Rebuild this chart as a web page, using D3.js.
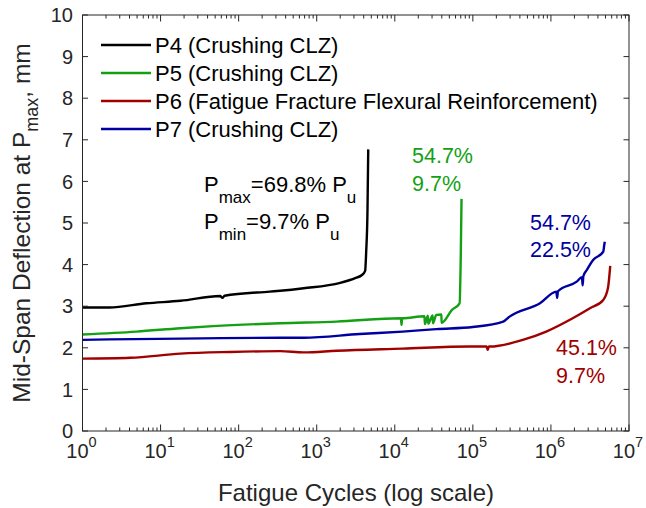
<!DOCTYPE html>
<html><head><meta charset="utf-8">
<script src="https://cdn.jsdelivr.net/npm/d3@7"></script>
<style>body{margin:0;background:#fff}svg{display:block}text{font-family:"Liberation Sans",Arial,sans-serif}</style>
</head><body>
<svg id="c" width="646" height="508"></svg>
<script>
// ---- data ----
const seriesNames = ["P4 (Crushing CLZ)", "P5 (Crushing CLZ)", "P6 (Fatigue Fracture Flexural Reinforcement)", "P7 (Crushing CLZ)"];
const seriesColors = ["#000000", "#14a014", "#a00000", "#0000a0"];
const p4Cycles = [1, 2.2, 6.6, 18, 58, 62, 66, 250, 340, 680, 2000, 3160, 3800, 4170, 4300, 4470, 4570];
const p4Defl   = [2.97, 2.97, 3.07, 3.13, 3.245, 3.20, 3.25, 3.35, 3.37, 3.43, 3.56, 3.68, 3.75, 3.85, 4.3, 5.3, 6.77];
const p5Cycles = [1, 4.9, 18, 47, 340, 1800, 12000, 12200, 12400, 12600, 24000, 24300, 26500, 26800, 30500, 30800, 34000, 39500, 39800, 54000, 67600, 70000, 71600];
const p5Defl   = [2.32, 2.39, 2.47, 2.52, 2.59, 2.63, 2.71, 2.55, 2.71, 2.71, 2.76, 2.57, 2.77, 2.58, 2.78, 2.59, 2.79, 2.80, 2.60, 2.91, 3.07, 4.2, 5.58];
const p6Cycles = [1, 4.1, 18, 78, 340, 680, 1800, 12600, 91000, 150000, 155000, 160000, 166000, 436000, 871000, 1900000, 3160000, 4680000, 5370000, 5750000];
const p6Defl   = [1.74, 1.76, 1.86, 1.90, 1.92, 1.89, 1.93, 1.98, 2.03, 2.03, 1.95, 2.03, 2.03, 2.19, 2.39, 2.71, 2.95, 3.15, 3.43, 3.97];
const p7Cycles = [1, 340, 680, 3550, 12600, 34000, 100000, 245000, 295000, 724000, 1175000, 1200000, 1230000, 2140000, 2500000, 2550000, 2600000, 2880000, 3470000, 4680000, 4800000, 4900000];
const p7Defl   = [2.19, 2.24, 2.24, 2.33, 2.39, 2.45, 2.50, 2.63, 2.75, 3.07, 3.35, 3.20, 3.36, 3.59, 3.70, 3.50, 3.72, 3.87, 4.11, 4.31, 4.45, 4.55];
const xTickExps = [0, 1, 2, 3, 4, 5, 6, 7];
const yTicks = [0, 1, 2, 3, 4, 5, 6, 7, 8, 9, 10];

// ---- chart ----
const svg = d3.select("#c");
const L = 82.5, R = 629, T = 15, B = 431;
const x = d3.scaleLog().domain([1, 1e7]).range([L, R]);
const y = d3.scaleLinear().domain([0, 10]).range([B, T]);
const axisCol = "#262626";

const series = [
  {c: p4Cycles, d: p4Defl}, {c: p5Cycles, d: p5Defl}, {c: p6Cycles, d: p6Defl}, {c: p7Cycles, d: p7Defl}
];
const line = d3.line().x(d => x(d[0])).y(d => y(d[1])).curve(d3.curveMonotoneX);
series.forEach((s, i) => {
  svg.append("path").datum(s.c.map((c, k) => [c, s.d[k]]))
    .attr("d", line).attr("fill", "none").attr("stroke", seriesColors[i])
    .attr("stroke-width", 2.4).attr("stroke-linejoin", "round");
});

// frame
svg.append("rect").attr("x", L).attr("y", T).attr("width", R - L).attr("height", B - T)
  .attr("fill", "none").attr("stroke", axisCol).attr("stroke-width", 1);

// x ticks (inward, top and bottom)
x.ticks().forEach(v => {
  const major = Math.abs(Math.log10(v) - Math.round(Math.log10(v))) < 1e-9;
  const len = major ? 6.5 : 3.5;
  const px = x(v);
  svg.append("line").attr("x1", px).attr("x2", px).attr("y1", B).attr("y2", B - len).attr("stroke", axisCol);
  svg.append("line").attr("x1", px).attr("x2", px).attr("y1", T).attr("y2", T + len).attr("stroke", axisCol);
});
xTickExps.forEach(e => {
  const t = svg.append("text").attr("x", x(Math.pow(10, e)) - 1).attr("y", 458)
    .attr("text-anchor", "middle").attr("fill", axisCol).attr("font-size", 20);
  t.append("tspan").text("10");
  t.append("tspan").attr("dy", -11).attr("font-size", 14.5).text(e);
});
// y ticks
yTicks.forEach(v => {
  const py = y(v);
  svg.append("line").attr("x1", L).attr("x2", L + 5.5).attr("y1", py).attr("y2", py).attr("stroke", axisCol);
  svg.append("line").attr("x1", R).attr("x2", R - 5.5).attr("y1", py).attr("y2", py).attr("stroke", axisCol);
  svg.append("text").attr("x", 73).attr("y", py + 7.2).attr("text-anchor", "end")
    .attr("fill", axisCol).attr("font-size", 20).text(v);
});

// axis labels
svg.append("text").attr("x", 356).attr("y", 501).attr("text-anchor", "middle")
  .attr("fill", axisCol).attr("font-size", 24).text("Fatigue Cycles (log scale)");
const yl = svg.append("text").attr("transform", "translate(30,223) rotate(-90)")
  .attr("text-anchor", "middle").attr("fill", axisCol).attr("font-size", 24.5);
yl.append("tspan").text("Mid-Span Deflection at P");
yl.append("tspan").attr("dy", 8).attr("font-size", 18).text("max");
yl.append("tspan").attr("dy", -8).text(", mm");

// legend
const legY = [45, 73, 101, 129];
seriesNames.forEach((n, i) => {
  svg.append("line").attr("x1", 101).attr("x2", 151).attr("y1", legY[i]).attr("y2", legY[i])
    .attr("stroke", seriesColors[i]).attr("stroke-width", 2.4);
  svg.append("text").attr("x", 155).attr("y", legY[i] + 8).attr("fill", "#000")
    .attr("font-size", 22).text(n);
});

// annotations
function subText(xp, yp, parts, col) {
  const t = svg.append("text").attr("x", xp).attr("y", yp).attr("fill", col).attr("font-size", 22);
  parts.forEach(p => {
    const ts = t.append("tspan").text(p.t);
    if (p.sub) ts.attr("dy", 11).attr("font-size", 17);
    if (p.back) ts.attr("dy", -11);
  });
}
subText(204, 192, [{t: "P"}, {t: "max", sub: true}, {t: "=69.8% P", back: true}, {t: "u", sub: true}], "#000");
subText(204, 229, [{t: "P"}, {t: "min", sub: true}, {t: "=9.7% P", back: true}, {t: "u", sub: true}], "#000");

const notes = [
  {x: 412, y: 163, t: "54.7%", c: seriesColors[1]}, {x: 412, y: 191, t: "9.7%", c: seriesColors[1]},
  {x: 530, y: 230, t: "54.7%", c: seriesColors[3]}, {x: 530, y: 257, t: "22.5%", c: seriesColors[3]},
  {x: 556, y: 355, t: "45.1%", c: seriesColors[2]}, {x: 556, y: 383, t: "9.7%", c: seriesColors[2]}
];
notes.forEach(n => svg.append("text").attr("x", n.x).attr("y", n.y).attr("fill", n.c)
  .attr("font-size", 21.5).text(n.t));
</script>
</body></html>
